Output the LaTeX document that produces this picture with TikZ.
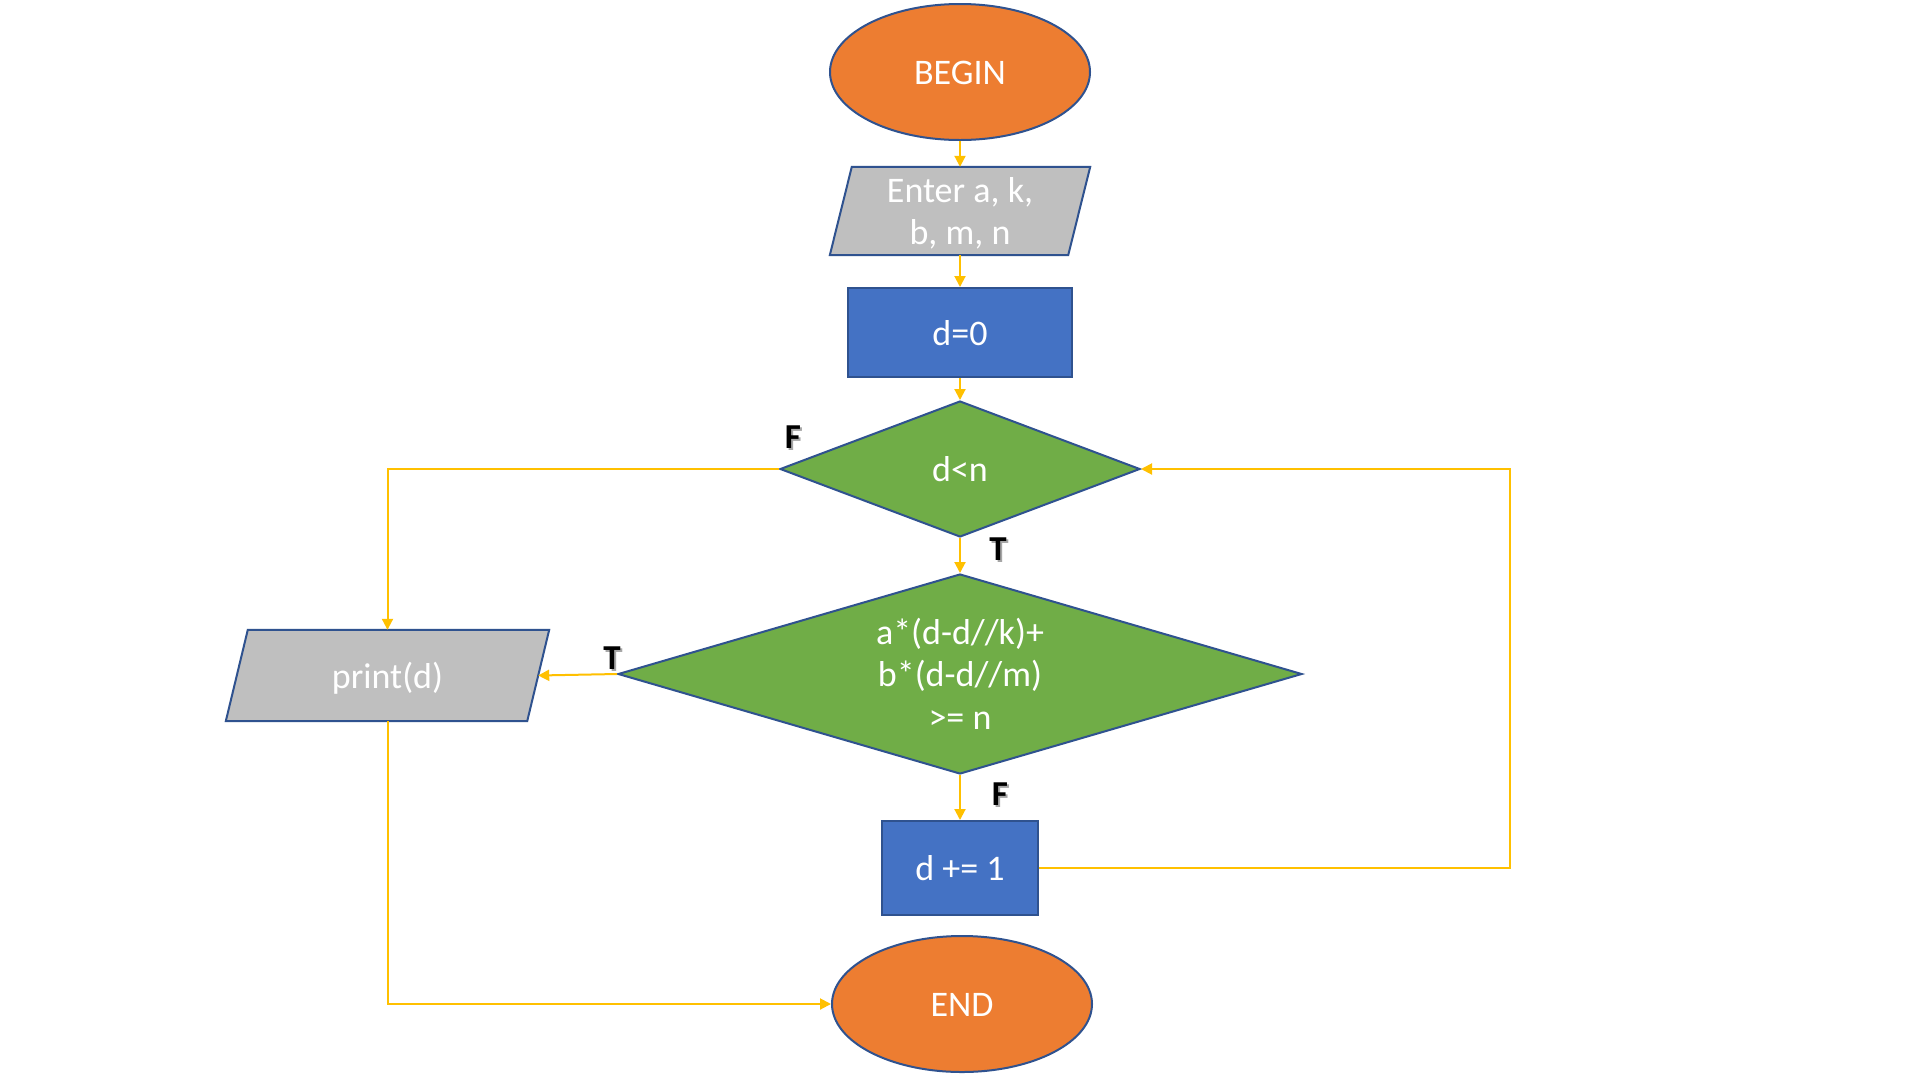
\documentclass[tikz,border=0pt]{standalone}
\usepackage{fontspec}
\setmainfont{Carlito}
\usetikzlibrary{shapes.geometric,arrows.meta,backgrounds,calc}
\definecolor{cOrange}{HTML}{ED7D31}
\definecolor{cGray}{HTML}{BFBFBF}
\definecolor{cBlue}{HTML}{4472C4}
\definecolor{cGreen}{HTML}{70AD47}
\definecolor{cBorder}{HTML}{2F528F}
\definecolor{cArrow}{HTML}{FFC000}
\newcommand\shadowed[1]{\makebox[0pt][l]{\hspace{2pt}\raisebox{-2pt}{\textcolor{black!35}{#1}}}#1}
\tikzset{
  base/.style={draw=cBorder, line width=2pt, text=white, font=\fontsize{36}{42.5}\selectfont, inner sep=0pt, align=center, text height=33pt, text depth=8pt},
  twolines/.style={text height=75.5pt},
  threelines/.style={text height=118pt},
  term/.style={base, ellipse, fill=cOrange, minimum width=260pt, minimum height=136pt},
  procbox/.style={base, rectangle, fill=cBlue},
  decide/.style={base, diamond, fill=cGreen},
  iobox/.style={rectangle, text=white, font=\fontsize{36}{42.5}\selectfont, inner sep=0pt, align=center, text height=33pt, text depth=8pt},
  iodraw/.style={draw=cBorder, line width=2pt, fill=cGray, line join=miter},
  conn/.style={draw=cArrow, line width=2pt, -{Triangle[length=11pt,width=11pt]}},
  flag/.style={font=\fontsize{35}{35}\selectfont\bfseries, inner sep=0pt, text=black}
}
\begin{document}
\begin{tikzpicture}[x=1pt,y=-1pt]
\useasboundingbox (0,0) rectangle (1920,1080);

\node[term] (begin) at (960,72) {BEGIN};
\node[iobox, twolines, minimum width=260pt, minimum height=88pt] (enter) at (960,211) {Enter a, k,\\b, m, n};
\node[procbox, minimum width=224pt, minimum height=89pt] (d0) at (960,332.5) {d=0};
\node[decide, minimum width=360pt, minimum height=136pt, aspect=2.65] (dn) at (960,469) {d<n};
\node[decide, threelines, minimum width=684pt, minimum height=200pt, aspect=3.42] (big) at (960,674) {a*(d-d//k)+\\b*(d-d//m)\\>= n};
\node[iobox, minimum width=323pt, minimum height=91pt] (print) at (387.5,675.5) {print(d)};
\node[procbox, minimum width=156pt, minimum height=94pt] (inc) at (960,868) {d += 1};
\node[term] (finish) at (962,1004) {END};

\begin{scope}[on background layer]
\fill[white] (0,0) rectangle (1920,1080);
\draw[iodraw] ([xshift=22pt]enter.north west) -- (enter.north east) -- ([xshift=-22pt]enter.south east) -- (enter.south west) -- cycle;
\draw[iodraw] ([xshift=22pt]print.north west) -- (print.north east) -- ([xshift=-22pt]print.south east) -- (print.south west) -- cycle;
\end{scope}

\node[flag] (fA) at (793,438) {\shadowed{F}};
\node[flag] (tA) at (998,550) {\shadowed{T}};
\node[flag] (tB) at (612,659) {\shadowed{T}};
\node[flag] (fB) at (1000,795) {\shadowed{F}};

\coordinate (loopR) at (1510,868);

\draw[conn] (begin.south) -- (enter.north);
\draw[conn] (enter.south) -- (d0.north);
\draw[conn] (d0.south) -- (dn.north);
\draw[conn] (dn.south) -- (big.north);
\draw[conn] (big.south) -- (inc.north);
\draw[conn] (big.west) -- ([xshift=-11pt]print.east);
\draw[conn] (dn.west) -| (print.north);
\draw[conn] (print.south) |- (finish.west);
\draw[conn] (inc.east) -- (loopR) |- (dn.east);
\end{tikzpicture}
\end{document}
